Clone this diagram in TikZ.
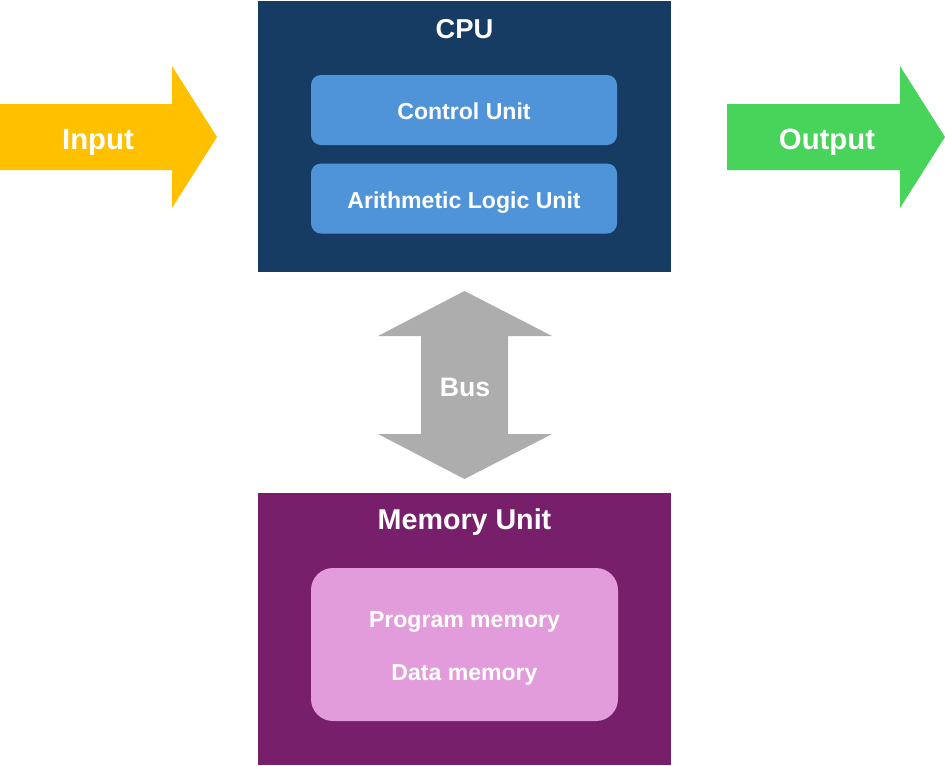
\documentclass[tikz,border=0pt]{standalone}
\usepackage{fontspec}
\setmainfont{Liberation Sans}
\usetikzlibrary{positioning}
\definecolor{cpublue}{HTML}{173C63}
\definecolor{unitblue}{HTML}{4F94D9}
\definecolor{memviolet}{HTML}{781F6B}
\definecolor{mempink}{HTML}{E29CDB}
\definecolor{inyellow}{HTML}{FFC000}
\definecolor{outgreen}{HTML}{48D45A}
\definecolor{busgray}{HTML}{ADADAD}

\begin{document}
\begin{tikzpicture}[x=0.75pt,y=-0.75pt,
   outer/.style={inner sep=0pt,minimum width=309.75pt,minimum height=203.25pt},
   unit/.style={fill=unitblue,rounded corners=7.5pt,inner sep=0pt,
                minimum width=229.5pt,minimum height=52.5pt},
   lbl/.style={text=white,anchor=base,inner sep=0pt}]
  \useasboundingbox (0,0) rectangle (945,765);
  % CPU block
  \node[outer,fill=cpublue] (cpu) at (464.5,136.5) {};
  \node[lbl,font=\fontsize{20.5}{25}\selectfont\bfseries] (cputitle) at (464.5,38) {CPU};
  \node[unit] (cu) at (464,110) {};
  \node[lbl,font=\fontsize{17.3}{20}\selectfont\bfseries] at (464,119) {Control Unit};
  \node[unit] (alu) at (464,198.5) {};
  \node[lbl,font=\fontsize{17.3}{20}\selectfont\bfseries] at (464,208) {Arithmetic Logic Unit};
  % memory block
  \node[outer,minimum height=204pt,fill=memviolet] (mem) at (464.5,629) {};
  \node[lbl,font=\fontsize{21.5}{24}\selectfont\bfseries] (memtitle) at (464.5,529) {Memory Unit};
  \node[fill=mempink,rounded corners=16.5pt,inner sep=0pt,
        minimum width=230.25pt,minimum height=114.75pt] (store) at (464.5,644.5) {};
  \node[lbl,font=\fontsize{17.3}{20}\selectfont\bfseries] (prog) at (464.5,627) {Program memory};
  \node[lbl,font=\fontsize{17.3}{20}\selectfont\bfseries] (data) at (464.5,680) {Data memory};
  % input / output / bus arrows
  \fill[inyellow] (0,104) -- (172,104) -- (172,66) -- (217,137) -- (172,208)
       -- (172,170) -- (0,170) -- cycle;
  \node[lbl,font=\fontsize{22}{26}\selectfont\bfseries] (in) at (98,149) {Input};
  \fill[outgreen] (727,104) -- (900,104) -- (900,66) -- (945,137) -- (900,208)
       -- (900,170) -- (727,170) -- cycle;
  \node[lbl,font=\fontsize{22}{26}\selectfont\bfseries] (out) at (827,149) {Output};
  \fill[busgray] (464.5,291) -- (552,336) -- (508,336) -- (508,434) -- (552,434)
       -- (464.5,479) -- (378,434) -- (421,434) -- (421,336) -- (378,336) -- cycle;
  \node[lbl,font=\fontsize{20}{25}\selectfont\bfseries] (bus) at (465,396) {Bus};
\end{tikzpicture}
\end{document}
